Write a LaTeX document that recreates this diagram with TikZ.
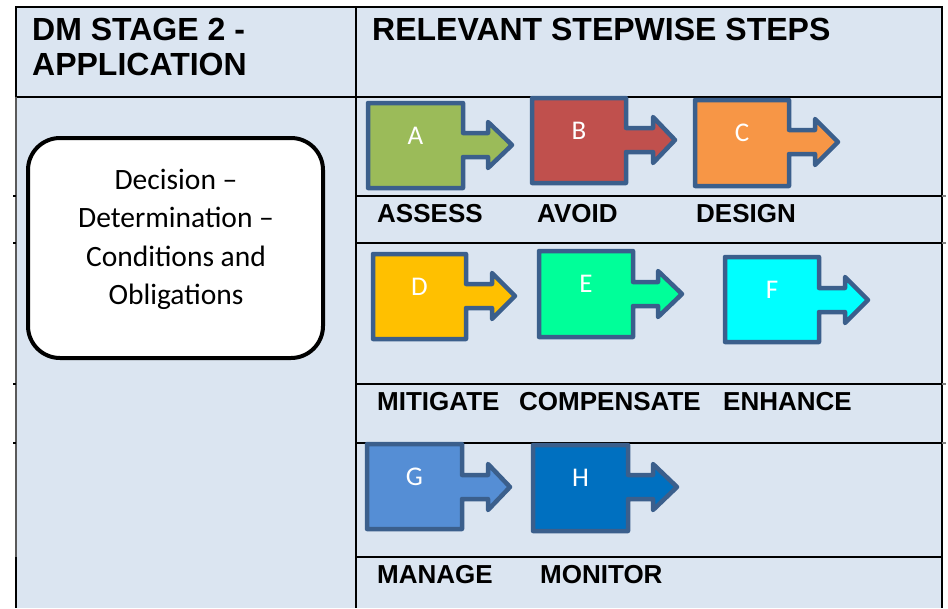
\documentclass[tikz,border=0pt]{standalone}
\usepackage{fontspec}
\setmainfont{Liberation Sans}
\newfontfamily\calfont{Carlito}
\definecolor{tablebg}{HTML}{DBE5F1}
\definecolor{stepborder}{HTML}{3B5F8C}
\definecolor{colA}{HTML}{9BBB59}
\definecolor{colB}{HTML}{C0504D}
\definecolor{colC}{HTML}{F79646}
\definecolor{colD}{HTML}{FFC000}
\definecolor{colE}{HTML}{00FF99}
\definecolor{colF}{HTML}{00FFFF}
\definecolor{colG}{HTML}{558ED5}
\definecolor{colH}{HTML}{0070C0}
\definecolor{edgegray}{HTML}{5A5A5A}
\tikzset{
  gridline/.style={line width=2pt, black},
  stepline/.style={line width=4.5pt, draw=stepborder, line join=round},
  steplabel/.style={text=white, font=\calfont\fontsize{27}{32}\selectfont, inner sep=0pt},
  headtext/.style={anchor=base west, inner sep=0pt, font=\fontsize{32}{36}\selectfont\bfseries},
  labeltext/.style={anchor=base west, inner sep=0pt, font=\fontsize{26}{30}\selectfont\bfseries},
  decbox/.style={draw=black, line width=4pt, fill=white, rounded corners=32pt},
  dectext/.style={align=center, inner sep=0pt, font=\calfont\fontsize{29.5}{38.5}\selectfont}
}
\newcommand\stepshape[9]{%
  \draw[stepline, fill=#9] (#2,#3) -- (#4,#3) -- (#4,#8-12) -- (#6,#8-12) -- (#6,#8-23) -- (#7,#8) -- (#6,#8+23) -- (#6,#8+12) -- (#4,#8+12) -- (#4,#5) -- (#2,#5) -- cycle;
  \node[steplabel] (step#1) at ({(#2+#4)/2},#3+33) {#1};
}
\begin{document}
\begin{tikzpicture}[x=1pt,y=-1pt]
\useasboundingbox (0,0) rectangle (948,608);
% table background
\fill[tablebg] (16,7) rectangle (942,608);
% grid lines
\draw[gridline] (15,7) -- (943,7);
\draw[gridline] (16,97) -- (942,97);
\draw[gridline] (16,6) -- (16,97);
\draw[line width=2pt, edgegray] (16,97) -- (16,557);
\draw[gridline] (16,557) -- (16,608);
\draw[gridline] (356,6) -- (356,608);
\draw[gridline] (942,6) -- (942,608);
\foreach \yy in {196,243,384,443,557} {
  \draw[gridline] (356,\yy) -- (942,\yy);
}
\foreach \yy in {196,243,384,443} {
  \draw[line width=1.5pt] (13,\yy) -- (16,\yy);
  \draw[line width=1.5pt, gray] (942,\yy) -- (946,\yy);
}
% headers
\node[headtext] (h1a) at (32,40) {DM STAGE 2 -};
\node[headtext] (h1b) at (32,75) {APPLICATION};
\node[headtext] (h2) at (372,40) {RELEVANT STEPWISE STEPS};
% decision box
\draw[decbox] (28,138) rectangle (323,358);
\node[dectext] (dec) at (176,239.5) {Decision –\\Determination –\\Conditions and\\Obligations};
% steps
\stepshape{A}{368}{103}{463}{188}{488}{512}{145}{colA}
\stepshape{B}{532}{98}{626}{183}{653}{675}{140}{colB}
\stepshape{C}{695}{100}{789}{186}{815}{838}{142}{colC}
\stepshape{D}{373}{254}{466}{339}{492}{515}{296}{colD}
\stepshape{E}{539}{251}{633}{337}{658}{682}{294}{colE}
\stepshape{F}{725}{257}{819}{342}{845}{868}{300}{colF}
\stepshape{G}{367}{444}{462}{529}{488}{510}{487}{colG}
\stepshape{H}{533}{445}{628}{531}{653}{677}{487}{colH}
% labels
\node[labeltext] (lA) at (377,222) {ASSESS};
\node[labeltext] (lB) at (537,222) {AVOID};
\node[labeltext] (lC) at (696,222) {DESIGN};
\node[labeltext] (lD) at (377,410) {MITIGATE};
\node[labeltext] (lE) at (519,410) {COMPENSATE};
\node[labeltext] (lF) at (723,410) {ENHANCE};
\node[labeltext] (lG) at (377,583) {MANAGE};
\node[labeltext] (lH) at (540,583) {MONITOR};
\end{tikzpicture}
\end{document}
